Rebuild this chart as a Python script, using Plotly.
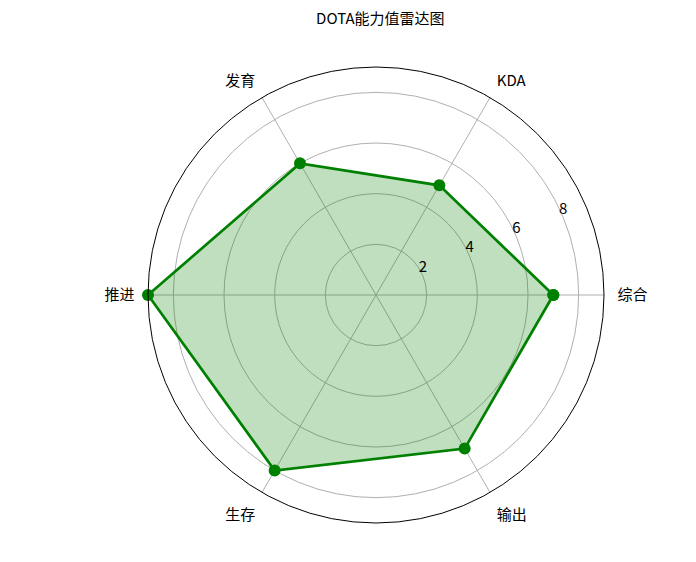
import plotly.graph_objects as go

labels = ["综合", "KDA", "发育", "推进", "生存", "输出"]
values = [7, 5, 6, 9, 8, 7]
angles = [0, 60, 120, 180, 240, 300]
radial_ticks = [2, 4, 6, 8]
tick_angle = 22.5

font_name = "Noto Sans CJK SC"

fig = go.Figure()
fig.add_trace(
    go.Scatterpolar(
        r=values + values[:1],
        theta=angles + angles[:1],
        thetaunit="degrees",
        mode="lines+markers",
        line=dict(color="green", width=2.7),
        marker=dict(color="green", size=12),
        fill="toself",
        fillcolor="rgba(0,128,0,0.25)",
        showlegend=False,
        hoverinfo="skip",
    )
)

# radial tick labels, upright like matplotlib
fig.add_trace(
    go.Scatterpolar(
        r=radial_ticks,
        theta=[tick_angle] * len(radial_ticks),
        thetaunit="degrees",
        mode="text",
        text=[str(t) for t in radial_ticks],
        textposition="top center",
        textfont=dict(size=15, color="black"),
        showlegend=False,
        hoverinfo="skip",
    )
)

fig.update_layout(
    width=696,
    height=562,
    margin=dict(l=140, r=100, t=59, b=47),
    paper_bgcolor="white",
    font=dict(family=font_name, size=15, color="black"),
    title=dict(text="DOTA能力值雷达图", x=0.535, xanchor="center", y=0.99, yanchor="top",
               font=dict(size=15)),
    polar=dict(
        bgcolor="white",
        domain=dict(x=[0, 1], y=[0, 1]),
        radialaxis=dict(
            range=[0, 9],
            tickvals=radial_ticks,
            showticklabels=False,
            showline=False,
            ticks="",
            gridcolor="#b0b0b0",
            gridwidth=1,
        ),
        angularaxis=dict(
            direction="counterclockwise",
            rotation=0,
            thetaunit="degrees",
            tickvals=angles,
            ticktext=labels,
            showline=True,
            linecolor="black",
            linewidth=1,
            ticks="outside",
            ticklen=10,
            tickcolor="rgba(0,0,0,0)",
            gridcolor="#b0b0b0",
            gridwidth=1,
            tickfont=dict(size=15),
        ),
    ),
)

fig.write_html("out.html")
